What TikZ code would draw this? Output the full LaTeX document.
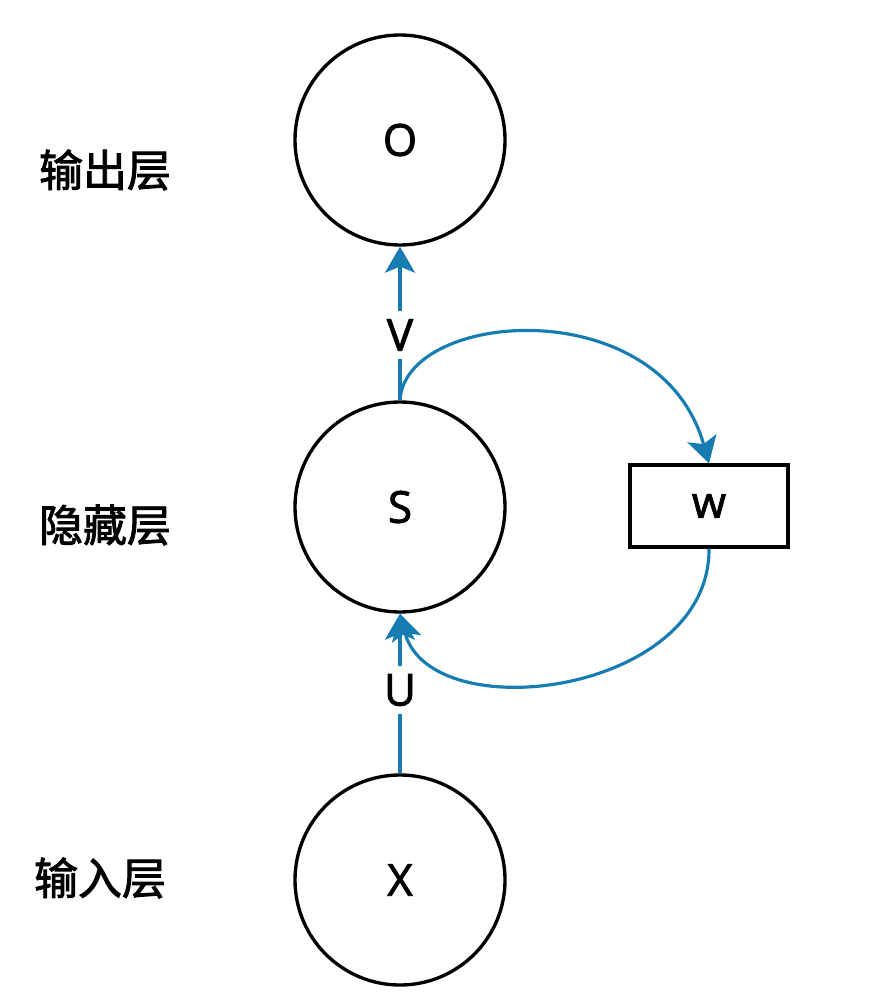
\documentclass[tikz,border=0pt]{standalone}
\usepackage{fontspec}
\setmainfont[FakeBold=2]{Open Sans}
\newfontfamily\cjk[FakeBold=2]{Noto Sans CJK SC}
\usetikzlibrary{arrows.meta}
\definecolor{rnnblue}{RGB}{22,124,178}
\newcommand{\layertxt}[1]{{\cjk #1}}

\begin{document}
\begin{tikzpicture}[unit/.style={circle,draw,line width=1.9pt,minimum size=4.2cm,inner sep=0pt,font=\fontsize{25}{30}\selectfont},
    wbox/.style={rectangle,draw,line width=1.9pt,minimum width=3.16cm,minimum height=1.64cm,font=\fontsize{25}{30}\selectfont},
    wlabel/.style={inner sep=0.16cm,font=\fontsize{25}{30}\selectfont},
    layer/.style={font=\fontsize{25}{30}\selectfont},
    link/.style={draw=rnnblue,line width=1.8pt},
    tip/.style={-{Stealth[length=0.52cm,width=0.6cm,inset=0.12cm]}}]
      \useasboundingbox (0,0) rectangle (17.76,-19.84);
      \node (o) at (8,-2.8) [unit] {O};
      \node (s) at (8,-10.14) [unit] {S};
      \node (x) at (8,-17.6) [unit] {X};
      \node (w) at (14.18,-10.12) [wbox] {w};
      \node (v) at (8,-6.7) [wlabel] {V};
      \node (u) at (8,-13.8) [wlabel] {U};
      \node (lo) at (2.1,-3.4) [layer] {\layertxt{输出层}};
      \node (lh) at (2.1,-10.5) [layer] {\layertxt{隐藏层}};
      \node (li) at (2.0,-17.56) [layer] {\layertxt{输入层}};
      \draw [link] (s) -- (v);
      \draw [link,tip] (v) -- (o);
      \draw [link] (x) -- (u);
      \draw [link,tip] (u) -- (s);
      \draw [link,tip] (s.north) .. controls (8.1,-6.2) and (13.2,-5.8) .. (w.north);
      \draw [link,tip] (w.south) .. controls (14.2,-13.9) and (8.6,-14.6) .. (s.south);
    \end{tikzpicture}
\end{document}
